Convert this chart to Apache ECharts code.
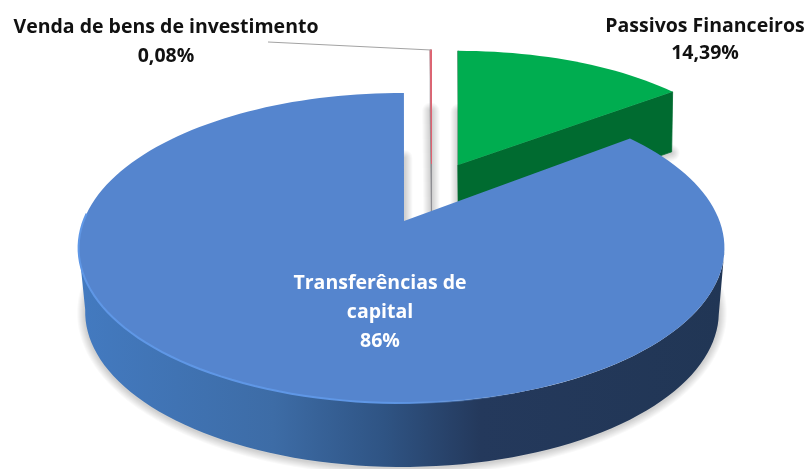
<!DOCTYPE html>
<html>
<head>
<meta charset="utf-8">
<title>Receitas de capital</title>
<script src="https://cdn.jsdelivr.net/npm/echarts@6/dist/echarts.min.js"></script>
<style>
html, body { margin: 0; padding: 0; background: #fff; }
#chart { width: 808px; height: 469px; }
</style>
</head>
<body>
<div id="chart"></div>
<script>
// clockwise from 12 o'clock
var categories = ['Passivos Financeiros', 'Transferências de\ncapital', 'Venda de bens de investimento'];
var values = [14.39, 85.53, 0.08];
var valueLabels = ['14,39%', '86%', '0,08%'];

var total = values.reduce(function (a, b) { return a + b; }, 0);
var angles = [];
var acc = 0;
values.forEach(function (v) {
    angles.push([acc / total * 360, (acc + v) / total * 360]);
    acc += v;
});

// where each slice sits: top face and bottom face, k is the perspective
var placement = [
    { top: { ax: 458, ay: 165, R: 290, Q: 125.6, k: 0.1, off: 0, rot: 0 },
      bottom: { ax: 458.5, ay: 225, R: 288, Q: 125.6, k: 0.1, off: 0, rot: 0 } },
    { top: { ax: 401.5, ay: 221, R: 318, Q: 150.3, k: 0.174, off: 0.0079, rot: 0.8 },
      bottom: { ax: 402, ay: 285, R: 312, Q: 150.3, k: 0.174, off: 0.0079, rot: 0.8 } },
    { top: { ax: 431.5, ay: 164, R: 290, Q: 125.6, k: 0.1, off: 0, rot: 0 },
      bottom: { ax: 431.5, ay: 224, R: 288, Q: 125.6, k: 0.1, off: 0, rot: 0 } }
];

var labelFont = { fontFamily: 'Open Sans', fontWeight: 'bold', fontSize: 19.5 };
var labelPlace = [
    { x: 705, y: 40, fill: '#111', lineHeight: 27 },
    { x: 380, y: 312, fill: '#fff', lineHeight: 29 },
    { x: 166, y: 42, fill: '#111', lineHeight: 29 }
];

var sideFill = new echarts.graphic.LinearGradient(80, 0, 725, 0, [
    { offset: 0, color: '#437ac0' },
    { offset: 0.3, color: '#3d6ca6' },
    { offset: 0.47, color: '#2f5484' },
    { offset: 0.62, color: '#24395c' },
    { offset: 1, color: '#213655' }
], true);
var rimLight = new echarts.graphic.LinearGradient(80, 0, 520, 0, [
    { offset: 0, color: '#5f97e6' },
    { offset: 0.7, color: '#5f97e6' },
    { offset: 1, color: 'rgba(95,151,230,0)' }
], true);
var topFills = ['#00ad50', '#5585ce', '#e5606e'];
var sideFills = ['#006b30', sideFill, '#8d8d92'];
var shadowSteps = [2, 4, 6, 8, 10, 12, 14, 16];

function project(p, u, v) {
    var w = 1 + p.k * v;
    return [p.ax + p.R * u / w, p.ay - p.Q * v / w];
}
function rimPoint(p, deg) {
    var t = (deg + p.rot) * Math.PI / 180;
    return project(p, Math.sin(t), Math.cos(t));
}
function apex(p) {
    return project(p, p.off, 0);
}
function facePoints(p, a) {
    var pts = [apex(p)];
    var n = Math.max(2, Math.ceil((a[1] - a[0]) / 2));
    for (var i = 0; i <= n; i++) {
        pts.push(rimPoint(p, a[0] + (a[1] - a[0]) * i / n));
    }
    return pts;
}
// outer wall: the part of the rim facing the viewer, left and right limits are where x peaks
function frontWall(p, a) {
    var from = Math.max(a[0], 100);
    var to = Math.min(a[1], 260);
    if (from >= to) {
        return null;
    }
    var upper = [];
    var lower = [];
    for (var d = from; d <= to; d += 2) {
        upper.push(rimPoint(p.top, d));
        lower.unshift(rimPoint(p.bottom, d));
    }
    return upper.concat(lower);
}

// soft shadow under each slice, stacked wide strokes
function renderShadow(params, api) {
    var i = params.dataIndex;
    var pts = facePoints(placement[i].bottom, angles[i]);
    return {
        type: 'group',
        y: 1,
        children: shadowSteps.map(function (w) {
            return {
                type: 'polygon',
                shape: { points: pts },
                style: { fill: null, stroke: 'rgba(0,0,0,0.024)', lineWidth: w, lineJoin: 'round' }
            };
        })
    };
}

function renderSlice(params, api) {
    var i = params.dataIndex;
    var p = placement[i];
    var a = angles[i];
    var z = i === 1 ? 5 : 1;
    var children = [];
    var wall = frontWall(p, a);
    if (wall) {
        children.push({
            type: 'polygon',
            z2: z,
            shape: { points: wall },
            style: { fill: sideFills[i] }
        });
    }
    // cut faces of the wedge, the big slice hides its own
    if (i !== 1) {
        a.forEach(function (deg) {
            children.push({
                type: 'polygon',
                z2: z,
                shape: { points: [apex(p.top), rimPoint(p.top, deg), rimPoint(p.bottom, deg), apex(p.bottom)] },
                style: { fill: sideFills[i], stroke: sideFills[i], lineWidth: 0.8 }
            });
        });
    }
    children.push({
        type: 'polygon',
        z2: z + 1,
        shape: { points: facePoints(p.top, a) },
        style: { fill: topFills[i], stroke: i === 2 ? topFills[i] : null, lineWidth: 0.8 }
    });
    if (i === 1) {
        var rim = [];
        for (var d = 272; d >= 130; d -= 2) {
            rim.push(rimPoint(p.top, d));
        }
        children.push({
            type: 'polyline',
            z2: z + 2,
            shape: { points: rim },
            style: { stroke: rimLight, lineWidth: 2, fill: null }
        });
    }
    return { type: 'group', children: children };
}

function renderLabel(params, api) {
    var i = params.dataIndex;
    var lp = labelPlace[i];
    return {
        type: 'text',
        x: lp.x,
        y: lp.y,
        style: Object.assign({
            text: categories[i] + '\n' + valueLabels[i],
            fill: lp.fill,
            lineHeight: lp.lineHeight,
            align: 'center',
            verticalAlign: 'middle'
        }, labelFont)
    };
}

var chart = echarts.init(document.getElementById('chart'), null, { renderer: 'canvas' });
chart.setOption({
    animation: false,
    backgroundColor: '#fff',
    series: [
        { type: 'custom', coordinateSystem: 'none', z: 1, silent: true, data: values, renderItem: renderShadow },
        { type: 'custom', coordinateSystem: 'none', z: 2, silent: true, data: values, renderItem: renderSlice },
        { type: 'custom', coordinateSystem: 'none', z: 3, silent: true, data: values, renderItem: renderLabel }
    ],
    graphic: [{
        type: 'polyline',
        z: 4,
        shape: { points: [[268, 42], [431, 50]] },
        style: { stroke: '#a3a3a3', lineWidth: 1, fill: null }
    }]
});
window.addEventListener('resize', function () {
    chart.resize();
});
</script>
</body>
</html>
